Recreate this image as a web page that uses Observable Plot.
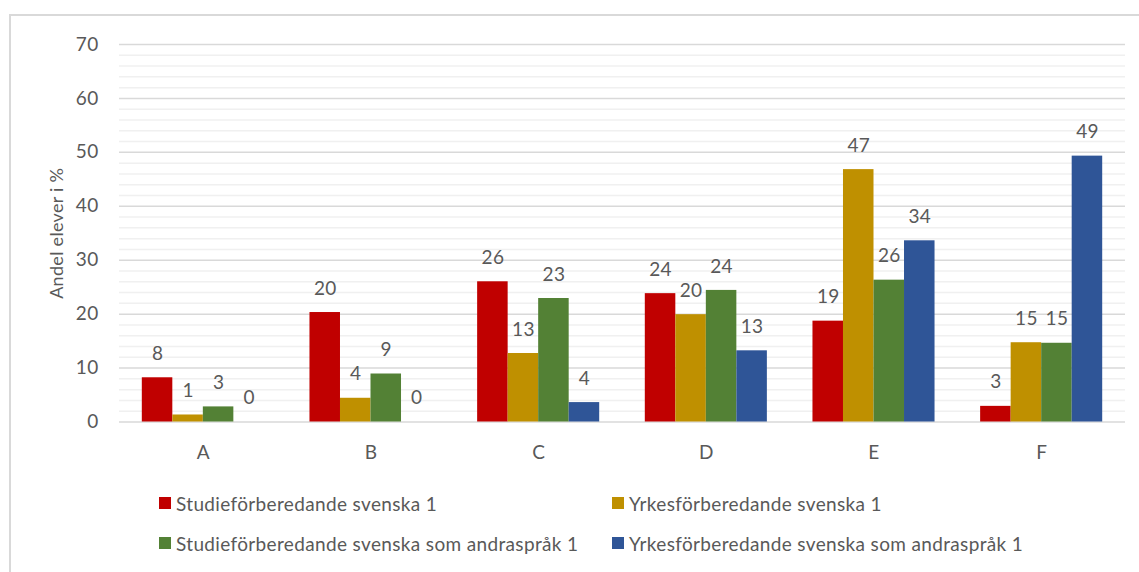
<!DOCTYPE html>
<html>
<head>
<meta charset="utf-8">
<script src="https://cdn.jsdelivr.net/npm/d3@7"></script>
<script src="https://cdn.jsdelivr.net/npm/@observablehq/plot@0.6"></script>
<style>
  html, body { margin: 0; padding: 0; background: #fff; }
  #wrap { position: relative; width: 1139px; height: 572px; overflow: hidden; font-family: Lato, "Open Sans", sans-serif; color: #595959; }
  #border { position: absolute; left: 9px; top: 14px; width: 1200px; height: 700px; border: 2px solid #d9d9d9; box-sizing: border-box; }
  #chart { position: absolute; left: 0; top: 0; }
  #legend { position: absolute; left: 0; top: 0; width: 1139px; height: 572px; pointer-events: none; }
  .item { position: absolute; display: flex; align-items: center; font-size: 19px; letter-spacing: 0.35px; white-space: nowrap; height: 24px; }
  .sw { width: 12px; height: 12px; margin-right: 5px; flex: none; }
</style>
</head>
<body>
<div id="wrap">
  <div id="border"></div>
  <div id="chart"></div>
  <div id="legend"></div>
</div>
<script>
const categories = ["A", "B", "C", "D", "E", "F"];
const series = [
  "Studieförberedande svenska 1",
  "Yrkesförberedande svenska 1",
  "Studieförberedande svenska som andraspråk 1",
  "Yrkesförberedande svenska som andraspråk 1"
];
const colors = ["#C00000", "#BF9000", "#538135", "#2F5597"];
const studieSv1 = [8.2, 20.3, 26.0, 23.8, 18.7, 2.9];
const yrkesSv1 = [1.3, 4.4, 12.7, 19.9, 46.8, 14.7];
const studieSva1 = [2.8, 8.9, 22.9, 24.4, 26.3, 14.6];
const yrkesSva1 = [0, 0, 3.6, 13.2, 33.6, 49.3];
const labelsStudieSv1 = [8, 20, 26, 24, 19, 3];
const labelsYrkesSv1 = [1, 4, 13, 20, 47, 15];
const labelsStudieSva1 = [3, 9, 23, 24, 26, 15];
const labelsYrkesSva1 = [0, 0, 4, 13, 34, 49];
const majorTicks = [0, 10, 20, 30, 40, 50, 60, 70];
const minorTicks = [2, 4, 6, 8, 12, 14, 16, 18, 22, 24, 26, 28, 32, 34, 36, 38, 42, 44, 46, 48, 52, 54, 56, 58, 62, 64, 66, 68];
const yTitle = "Andel elever i %";

const allValues = [studieSv1, yrkesSv1, studieSva1, yrkesSva1];
const allLabels = [labelsStudieSv1, labelsYrkesSv1, labelsStudieSva1, labelsYrkesSva1];

const groupWidth = 0.728;
const barW = groupWidth / series.length;
const rows = [];
categories.forEach((c, i) => {
  series.forEach((s, j) => {
    const x1 = i - groupWidth / 2 + j * barW;
    rows.push({cat: c, s, v: allValues[j][i], label: allLabels[j][i], x1, x2: x1 + barW, xm: x1 + barW / 2});
  });
});

const H = 475;
const chart = Plot.plot({
  width: 1139,
  height: H,
  marginLeft: 119,
  marginRight: 14,
  marginTop: 44,
  marginBottom: H - 421.5,
  style: {fontFamily: "Lato, 'Open Sans', sans-serif", fontSize: "19px", letterSpacing: "0.3px", color: "#595959", background: "transparent", overflow: "visible"},
  x: {type: "linear", domain: [-0.5, 5.5], ticks: categories.map((d, i) => i), tickFormat: i => categories[i], tickSize: 0, tickPadding: 23, label: null},
  y: {domain: [0, 70], ticks: majorTicks, tickSize: 0, tickPadding: 21, label: null},
  color: {domain: series, range: colors},
  marks: [
    Plot.ruleY(minorTicks, {stroke: "#f0f0f0", strokeWidth: 1.5}),
    Plot.ruleY(majorTicks, {stroke: "#d9d9d9", strokeWidth: 1.5}),
    Plot.rect(rows, {x1: "x1", x2: "x2", y1: 0, y2: "v", fill: "s"}),
    Plot.text(rows, {x: "xm", y: "v", text: "label", dy: -24, fill: "#595959", fontSize: 19}),
    Plot.text([yTitle], {frameAnchor: "left", textAnchor: "middle", rotate: -90, dx: -62, fill: "#595959", fontSize: 18})
  ]
});
document.getElementById("chart").appendChild(chart);

const legend = document.getElementById("legend");
const pos = [[159, 491], [612, 491], [159, 531], [612, 531]];
series.forEach((s, j) => {
  const it = document.createElement("div");
  it.className = "item";
  it.style.left = pos[j][0] + "px";
  it.style.top = pos[j][1] + "px";
  const sw = document.createElement("span");
  sw.className = "sw";
  sw.style.background = colors[j];
  const tx = document.createElement("span");
  tx.textContent = s;
  it.appendChild(sw);
  it.appendChild(tx);
  legend.appendChild(it);
});
</script>
</body>
</html>
